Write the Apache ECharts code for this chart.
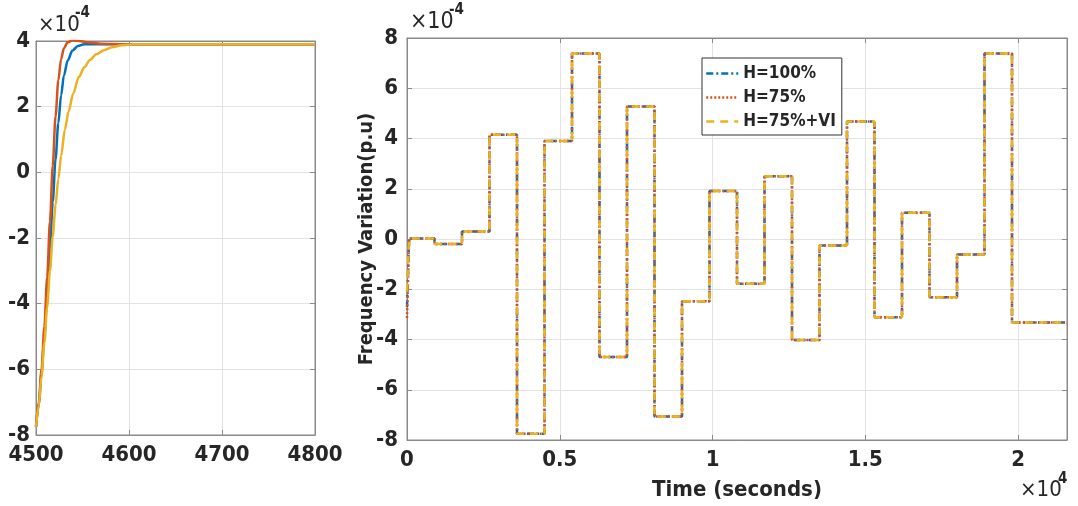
<!DOCTYPE html>
<html lang="en">
<head>
<meta charset="UTF-8">
<title>Frequency Variation</title>
<script src="https://cdn.jsdelivr.net/npm/echarts@6/dist/echarts.min.js"></script>
<style>html, body { margin: 0; padding: 0; background: #fff; }</style>
</head>
<body>
<div id="main" style="width:1078px;height:506px;"></div>
<script type="text/javascript">
// --- zoomed view, t = 4500..4800 s, values in 1e-4 p.u.
var zoomBlue = [[4500,-7.75],[4503,-7.05],[4506,-6.1],[4509,-5.0],[4512,-3.7],[4515,-2.3],[4518,-0.9],[4521,0.4],[4524,1.5],[4527,2.35],[4530,2.95],[4534,3.4],[4539,3.7],[4545,3.85],[4552,3.9],[4800,3.9]];
var zoomRed = [[4500,-7.75],[4503,-7.0],[4506,-6.0],[4509,-4.7],[4512,-3.2],[4515,-1.5],[4518,0.2],[4521,1.7],[4524,2.8],[4527,3.45],[4530,3.78],[4534,3.96],[4539,4.02],[4545,4.01],[4555,3.96],[4570,3.92],[4600,3.9],[4800,3.9]];
var zoomYellow = [[4500,-7.75],[4503,-7.1],[4506,-6.2],[4509,-5.2],[4512,-4.1],[4515,-3.0],[4518,-1.95],[4521,-1.0],[4524,-0.2],[4527,0.5],[4531,1.3],[4535,1.85],[4540,2.4],[4546,2.9],[4552,3.2],[4558,3.42],[4565,3.6],[4573,3.72],[4582,3.81],[4592,3.87],[4605,3.9],[4800,3.9]];

// --- full run, step load changes every 900 s
var stepTimes = [0,900,1800,2700,3600,4500,5400,6300,7200,8100,9000,9900,10800,11700,12600,13500,14400,15300,16200,17100,18000,18900,19800];
var stepLevels = [0.02,-0.2,0.3,4.15,-7.75,3.9,7.38,-4.7,5.27,-7.06,-2.48,1.91,-1.78,2.5,-4.02,-0.26,4.68,-3.11,1.04,-2.32,-0.62,7.38,-3.32];
var endTime = 21600;
// initial dip at t=0 : H=100%, H=75%, H=75%+VI
var startDip = [-2.7, -3.15, -2.1];

var names = ['H=100%', 'H=75%', 'H=75%+VI'];
var colors = ['#0072BD', '#D95319', '#EDB120'];
var dashes = [[7, 3, 2, 3], [2, 2], [8, 6]];

var FONT = '"DejaVu Sans Condensed", "DejaVu Sans", sans-serif';
var TXT = '#262626';
var BOX = '#8a8a8a';

function stepData(dip) {
    var pts = [[0, dip], [70, stepLevels[0]]];
    for (var i = 1; i < stepTimes.length; i++) {
        pts.push([stepTimes[i], stepLevels[i - 1]]);
        pts.push([stepTimes[i], stepLevels[i]]);
    }
    pts.push([endTime, stepLevels[stepLevels.length - 1]]);
    return pts;
}

var myChart = echarts.init(document.getElementById('main'));

function tickLabel(fmt) {
    return { color: TXT, fontFamily: FONT, fontWeight: 'bold', fontSize: 22, margin: 9, formatter: fmt || function (v) { return String(v); } };
}
var axisLine = { show: true, onZero: false, lineStyle: { color: BOX, width: 1 } };
var tickIn = { show: true, inside: true, length: 5, lineStyle: { color: BOX } };
var grid = { show: true, lineStyle: { color: '#e3e3e3', width: 1 } };

var series = [];
var zooms = [zoomBlue, zoomRed, zoomYellow];
for (var k = 0; k < 3; k++) {
    series.push({
        name: 'z' + names[k], type: 'line', xAxisIndex: 0, yAxisIndex: 0,
        data: zooms[k], showSymbol: false, symbol: 'none', smooth: 0.3, smoothMonotone: 'x',
        lineStyle: { color: colors[k], width: 2.5 }, itemStyle: { color: colors[k] }, z: 2 + k
    });
}
for (var k = 0; k < 3; k++) {
    series.push({
        name: names[k], type: 'line', xAxisIndex: 1, yAxisIndex: 1,
        data: stepData(startDip[k]), showSymbol: false, symbol: 'none',
        lineStyle: { color: colors[k], width: 2.5, type: dashes[k] }, itemStyle: { color: colors[k] }, z: 2 + k
    });
}

option = {
    animation: false,
    backgroundColor: '#fff',
    grid: [
        { left: 36, top: 41, width: 279, height: 394, show: true, borderColor: BOX, borderWidth: 1 },
        { left: 407, top: 38, width: 660, height: 403, show: true, borderColor: BOX, borderWidth: 1 }
    ],
    legend: {
        data: names, orient: 'vertical', left: 702, top: 58,
        padding: [7, 6, 5, 3], itemGap: 7, itemWidth: 32, itemHeight: 14,
        backgroundColor: '#fff', borderColor: '#333', borderWidth: 1,
        textStyle: { color: TXT, fontFamily: FONT, fontWeight: 'bold', fontSize: 17 },
        itemStyle: { opacity: 0, borderWidth: 0 },
        lineStyle: { width: 2.5, opacity: 1 }
    },
    xAxis: [
        { type: 'value', gridIndex: 0, min: 4500, max: 4800, interval: 100, axisLine: axisLine, axisTick: tickIn, splitLine: grid, axisLabel: tickLabel() },
        { type: 'value', gridIndex: 1, min: 0, max: endTime, interval: 5000, axisLine: axisLine, axisTick: tickIn, splitLine: grid,
          axisLabel: Object.assign(tickLabel(function (v) { return String(v / 10000); }), { showMaxLabel: false }),
          name: 'Time (seconds)', nameLocation: 'middle', nameGap: 39, nameMoveOverlap: false,
          nameTextStyle: { color: TXT, fontFamily: FONT, fontWeight: 'bold', fontSize: 22 } },
        { type: 'value', gridIndex: 0, position: 'top', min: 4500, max: 4800, interval: 100, axisLine: axisLine, axisTick: tickIn, splitLine: { show: false }, axisLabel: { show: false } },
        { type: 'value', gridIndex: 1, position: 'top', min: 0, max: endTime, interval: 5000, axisLine: axisLine, axisTick: tickIn, splitLine: { show: false }, axisLabel: { show: false } }
    ],
    yAxis: [
        { type: 'value', gridIndex: 0, min: -8, max: 4, interval: 2, axisLine: axisLine, axisTick: tickIn, splitLine: grid, axisLabel: Object.assign(tickLabel(), { margin: 6 }) },
        { type: 'value', gridIndex: 1, min: -8, max: 8, interval: 2, axisLine: axisLine, axisTick: tickIn, splitLine: grid, axisLabel: tickLabel(),
          name: 'Frequency Variation(p.u)', nameLocation: 'middle', nameGap: 30, nameMoveOverlap: false,
          nameTextStyle: { color: TXT, fontFamily: FONT, fontWeight: 'bold', fontSize: 20 } },
        { type: 'value', gridIndex: 0, position: 'right', min: -8, max: 4, interval: 2, axisLine: axisLine, axisTick: tickIn, splitLine: { show: false }, axisLabel: { show: false } },
        { type: 'value', gridIndex: 1, position: 'right', min: -8, max: 8, interval: 2, axisLine: axisLine, axisTick: tickIn, splitLine: { show: false }, axisLabel: { show: false } }
    ],
    graphic: [
        { type: 'text', left: 38, top: 14, style: { text: '×10', fill: TXT, font: '22px ' + FONT } },
        { type: 'text', left: 75, top: 6, style: { text: '-4', fill: TXT, font: 'bold 15px ' + FONT } },
        { type: 'text', left: 410, top: 11, style: { text: '×10', fill: TXT, font: '23px ' + FONT } },
        { type: 'text', left: 449, top: 3, style: { text: '-4', fill: TXT, font: 'bold 15px ' + FONT } },
        { type: 'text', left: 1020, top: 479, style: { text: '×10', fill: TXT, font: '22px ' + FONT } },
        { type: 'text', left: 1058, top: 472, style: { text: '4', fill: TXT, font: 'bold 15px ' + FONT } }
    ],
    series: series
};

myChart.setOption(option);
</script>
</body>
</html>
